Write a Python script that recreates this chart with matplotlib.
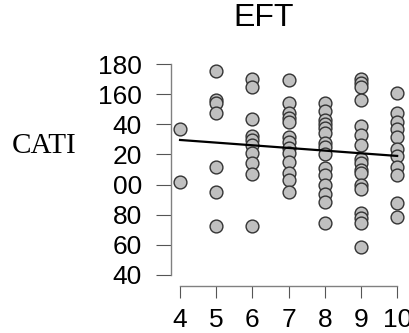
import matplotlib
matplotlib.use("Agg")
import matplotlib.pyplot as plt

# data
x4 = [136.7, 101.5]
x5 = [175.6, 156.0, 154.0, 147.7, 111.9, 95.3, 72.5]
x6 = [169.8, 164.5, 143.5, 132.2, 129.6, 126.2, 120.7, 114.1, 107.0, 72.5]
x7 = [169.4, 154.3, 147.3, 144.0, 141.7, 131.4, 128.4, 124.0, 120.7, 115.2, 107.5, 103.0, 95.3]
x8 = [154.3, 149.0, 142.8, 140.2, 137.3, 134.0, 127.8, 124.7, 120.3, 110.8, 106.3, 99.7, 93.7, 88.6, 74.7]
x9 = [169.8, 167.2, 164.9, 156.1, 138.9, 132.9, 126.2, 116.8, 114.1, 109.7, 107.5, 99.7, 96.9, 80.9, 77.6, 74.3, 58.8]
x10 = [160.5, 147.3, 141.7, 136.7, 131.4, 123.4, 119.0, 111.4, 106.3, 87.5, 78.7]
groups = {4: x4, 5: x5, 6: x6, 7: x7, 8: x8, 9: x9, 10: x10}
fit_x = [4, 10]
fit_y = [129.6, 119.0]
yticks = [40, 60, 80, 100, 120, 140, 160, 180]
ytick_labels = ["40", "60", "80", "00", "20", "40", "160", "180"]
xticks = [4, 5, 6, 7, 8, 9, 10]

W, H = 410, 333
fig = plt.figure(figsize=(W / 100, H / 100), dpi=100)
ax = fig.add_axes([171 / W, (H - 275) / H, (408 - 171) / W, (275 - 64) / H])

xs, ys = [], []
for k, v in groups.items():
    xs += [k] * len(v)
    ys += v
ax.scatter(xs, ys, s=85, facecolor="#c0c0c0", edgecolor="#333333", linewidths=1.0,
           zorder=3, clip_on=False)
ax.plot(fit_x, fit_y, color="black", lw=1.6, zorder=4, clip_on=False)

ax.set_xlim(3.75, 10.3)
ax.set_ylim(40, 180)
for s in ["top", "right"]:
    ax.spines[s].set_visible(False)
ax.spines["left"].set_bounds(40, 180)
ax.spines["bottom"].set_bounds(4, 10)
ax.spines["bottom"].set_position(("outward", 8))
for s in ["left", "bottom"]:
    ax.spines[s].set_color("#808080")
    ax.spines[s].set_linewidth(1.0)

ax.set_yticks(yticks)
ax.set_yticklabels(ytick_labels)
ax.set_xticks(xticks)
ax.tick_params(axis="y", length=11, pad=10, color="#555555", labelsize=19)
ax.tick_params(axis="x", length=8.6, pad=7, color="#555555", labelsize=19)
for lab in ax.get_xticklabels() + ax.get_yticklabels():
    lab.set_fontfamily("Liberation Sans")

fig.text(264 / W, 1 - 18 / H, "EFT", ha="center", va="center",
         fontsize=23, family="Liberation Sans")
fig.text(44 / W, 1 - 146 / H, "CATI", ha="center", va="center",
         fontsize=21, family="Liberation Serif")

fig.savefig("out.png", dpi=100)
